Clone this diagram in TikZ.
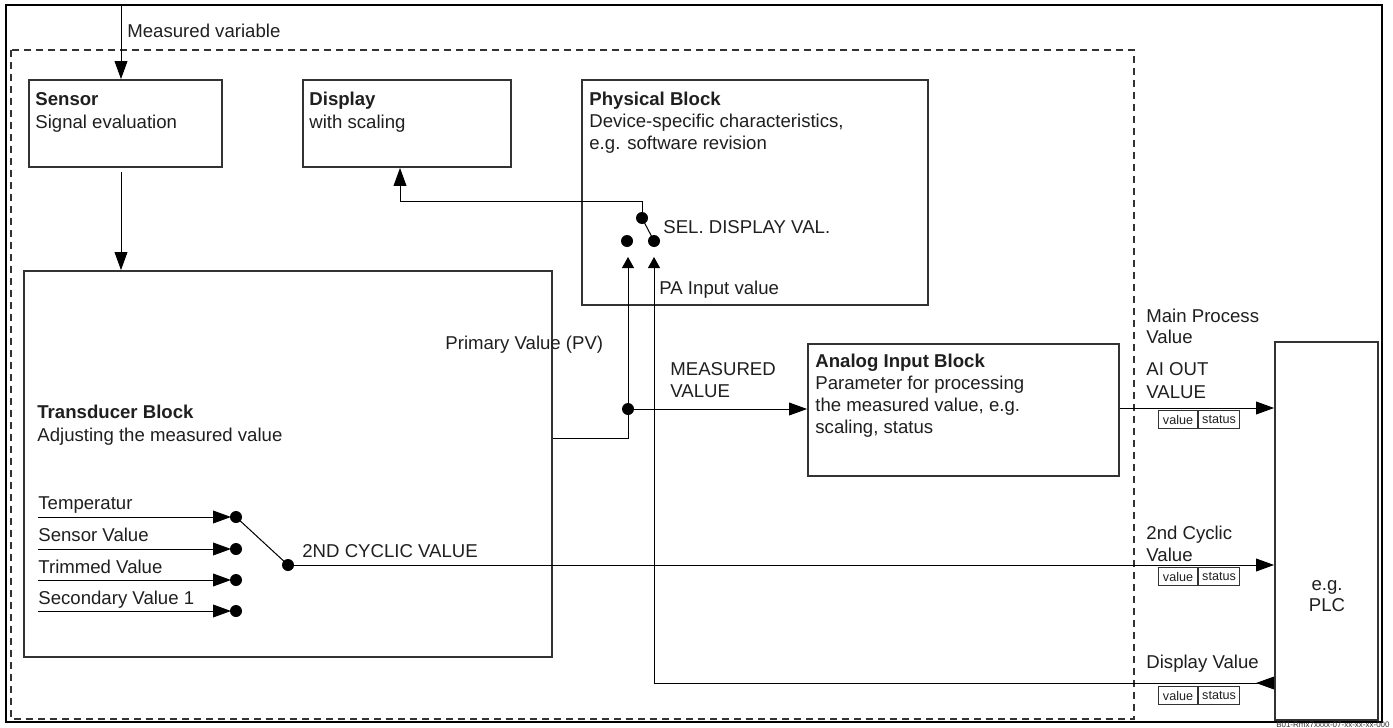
\documentclass[tikz,border=0pt]{standalone}
\usepackage{fontspec}
\setmainfont{Liberation Sans}
\usetikzlibrary{arrows.meta,fit}
\begin{document}
\begin{tikzpicture}[x=0.5pt,y=-0.5pt,
  blk/.style={draw=black!80,line width=0.9pt,inner sep=0pt},
  conn/.style={draw=black,line width=0.5pt},
  bigtip/.style={-{Triangle[length=9pt,width=6.4pt]}},
  smalltip/.style={-{Triangle[length=5.5pt,width=6pt]}},
  lbl/.style={font=\fontsize{9.3}{11.5}\selectfont,inner sep=0pt,text=black!88,anchor=base west},
  ttl/.style={lbl,font=\fontsize{9.3}{11.5}\selectfont\bfseries},
  vs/.style={draw=black!80,line width=0.5pt,inner sep=0pt,minimum height=9pt,anchor=north west,font=\fontsize{6.3}{7}\selectfont,text=black!88},
  dot/.style={circle,fill=black,inner sep=0pt,minimum size=6pt}
]
\useasboundingbox (0,0) rectangle (1393,728);
% outer frame and dashed device boundary
\draw[black,line width=0.8pt] (6,5) rectangle (1382,722);
\draw[black!80,line width=0.8pt,dash pattern=on 3.5pt off 2.5pt] (11,50) rectangle (1134,719);

% blocks
\node[blk,fit={(29,80) (222,167)}] (sensor) {};
\node[blk,fit={(303,80) (511,167)}] (display) {};
\node[blk,fit={(582,80) (928,305)}] (physical) {};
\node[blk,fit={(24,271) (552,657)}] (transducer) {};
\node[blk,fit={(808,344) (1119,476)}] (analog) {};
\node[blk,fit={(1275,342) (1378,720)}] (plc) {};

% block texts
\node[ttl] (sensorT) at (35,105) {Sensor};
\node[lbl] (sensorD) at (35,128) {Signal evaluation};
\node[ttl] (displayT) at (309,105) {Display};
\node[lbl] (displayD) at (309,128) {with scaling};
\node[ttl] (physT) at (589,105) {Physical Block};
\node[lbl] (physD1) at (589,127) {Device-specific characteristics,};
\node[lbl] (physD2) at (589,149) {e.g. software revision};
\node[ttl] (anT) at (815,367) {Analog Input Block};
\node[lbl] (anD1) at (815,389) {Parameter for processing};
\node[lbl] (anD2) at (815,411) {the measured value, e.g.};
\node[lbl] (anD3) at (815,433) {scaling, status};
\node[ttl] (trT) at (37,418) {Transducer Block};
\node[lbl] (trD) at (37,441) {Adjusting the measured value};
\node[lbl,anchor=base] (plc1) at (1327,590) {e.g.};
\node[lbl,anchor=base] (plc2) at (1327,611) {PLC};

% measured variable
\coordinate (mv) at (121,5);
\draw[conn,bigtip] (mv) -- (mv |- sensor.north);
\node[lbl] (mvL) at (127,37) {Measured variable};

% sensor -> transducer
\coordinate (st) at (121,172);
\draw[conn,bigtip] (st) -- (st |- transducer.north);

% physical block switch
\node[dot] (sw1) at (642,218) {};
\node[dot] (pvdot) at (627,241) {};
\node[dot] (padot) at (654,241) {};
\draw[conn] (sw1.center) -- (padot.center);
\coordinate (dturn) at (400,201);
\draw[conn,bigtip] (sw1.center) |- (dturn) -- (dturn |- display.south);
\node[lbl] (selL) at (663,233) {SEL. DISPLAY VAL.};
\node[lbl] (paL) at (659,294) {PA Input value};

% primary value
\coordinate (pvtip) at (628,257);
\coordinate (pvy) at (0,438);
\draw[conn,smalltip] (pvy -| transducer.east) -| (pvtip);
\node[lbl] (pvL) at (445,349) {Primary Value (PV)};
\node[dot] (junc) at (628,409) {};
\draw[conn,bigtip] (junc.center) -- (junc.center -| analog.west);
\node[lbl] (measL1) at (670,375) {MEASURED};
\node[lbl] (measL2) at (670,397) {VALUE};

% AI out
\coordinate (aiy) at (0,408);
\draw[conn,bigtip] (aiy -| analog.east) -- (aiy -| plc.west);
\node[lbl] (mpv1) at (1146,322) {Main Process};
\node[lbl] (mpv2) at (1146,343) {Value};
\node[lbl] (aio1) at (1146,375) {AI OUT};
\node[lbl] (aio2) at (1146,398) {VALUE};
\node[vs,minimum width=19.5pt] (v1) at (1158,410) {value};
\node[vs,minimum width=20.5pt] (s1) at (v1.north east) {status};

% transducer inputs
\node[dot] (in1) at (236,517) {};
\node[dot] (in2) at (236,549) {};
\node[dot] (in3) at (236,580) {};
\node[dot] (in4) at (236,611) {};
\draw[conn,bigtip,shorten >=2.5pt] (38,517) -- (in1.center);
\draw[conn,bigtip,shorten >=2.5pt] (38,549) -- (in2.center);
\draw[conn,bigtip,shorten >=2.5pt] (38,580) -- (in3.center);
\draw[conn,bigtip,shorten >=2.5pt] (38,611) -- (in4.center);
\node[lbl] (in1L) at (38,509) {Temperatur};
\node[lbl] (in2L) at (38,541) {Sensor Value};
\node[lbl] (in3L) at (38,573) {Trimmed Value};
\node[lbl] (in4L) at (38,604) {Secondary Value 1};
\node[dot] (cyc) at (288,565) {};
\draw[conn] (in1.center) -- (cyc.center);
\draw[conn,bigtip] (cyc.center) -- (cyc.center -| plc.west);
\node[lbl] (cycL) at (302,557) {2ND CYCLIC VALUE};
\node[lbl] (c2a) at (1146,539) {2nd Cyclic};
\node[lbl] (c2b) at (1146,561) {Value};
\node[vs,minimum width=19.5pt] (v2) at (1158,567) {value};
\node[vs,minimum width=20.5pt] (s2) at (v2.north east) {status};

% display value back from PLC
\coordinate (dvy) at (0,683);
\coordinate (patip) at (654,257);
\draw[conn,{Triangle[reversed,length=9pt,width=6.4pt]}-{Triangle[length=5.5pt,width=6pt]}] (dvy -| plc.west) -| (patip);
\node[lbl] (dvL) at (1146,668) {Display Value};
\node[vs,minimum width=19.5pt] (v3) at (1158,686) {value};
\node[vs,minimum width=20.5pt] (s3) at (v3.north east) {status};

% drawing code
\node[inner sep=0pt,anchor=base east,font=\fontsize{4}{5}\selectfont,text=black!80] (code) at (1390,727) {B01-Rmx7xxxx-07-xx-xx-xx-000};
\end{tikzpicture}
\end{document}
